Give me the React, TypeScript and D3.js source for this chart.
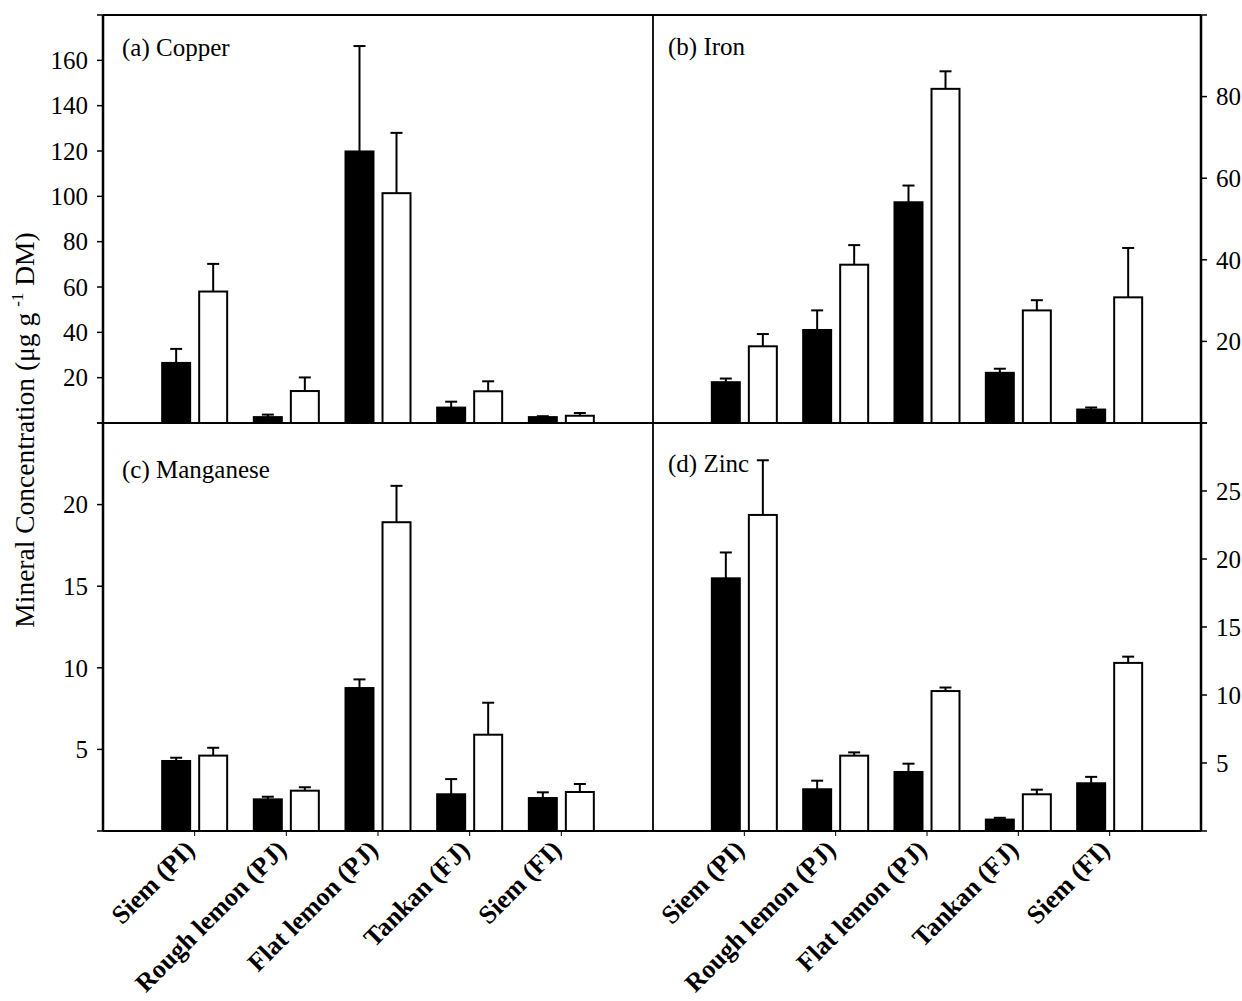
import React from "react";
import * as d3 from "d3";

// cultivars on the x axis (same for all four panels)
const categories = ["Siem (PI)", "Rough lemon (PJ)", "Flat lemon (PJ)", "Tankan (FJ)", "Siem (FI)"];

// (a) copper
const copperBlack = [26.5, 2.6, 119.8, 6.8, 2.6];
const copperBlackErr = [6.2, 1.1, 46.5, 2.6, 0.4];
const copperWhite = [58, 14.1, 101.4, 14, 3.2];
const copperWhiteErr = [12.2, 6.0, 26.6, 4.4, 1.2];
const copperTicks = [20, 40, 60, 80, 100, 120, 140, 160];

// (b) iron
const ironBlack = [10.0, 22.8, 54.1, 12.3, 3.3];
const ironBlackErr = [0.9, 4.8, 4.1, 1.0, 0.5];
const ironWhite = [18.8, 38.8, 81.9, 27.6, 30.8];
const ironWhiteErr = [3.0, 4.8, 4.3, 2.5, 12.1];
const ironTicks = [20, 40, 60, 80];

// (c) manganese
const mnBlack = [4.29, 1.94, 8.76, 2.25, 2.02];
const mnBlackErr = [0.2, 0.16, 0.53, 0.93, 0.35];
const mnWhite = [4.62, 2.47, 18.92, 5.9, 2.39];
const mnWhiteErr = [0.48, 0.21, 2.23, 1.96, 0.49];
const mnTicks = [5, 10, 15, 20];

// (d) zinc
const znBlack = [18.58, 3.07, 4.34, 0.84, 3.51];
const znBlackErr = [1.9, 0.63, 0.61, 0.13, 0.47];
const znWhite = [23.24, 5.54, 10.29, 2.7, 12.36];
const znWhiteErr = [4.02, 0.24, 0.26, 0.34, 0.46];
const znTicks = [5, 10, 15, 20, 25];

const FONT = "'Liberation Serif', 'Times New Roman', serif";

// frame edges
const X0 = 103, XM = 653, X1 = 1201;
const Y0 = 15, YM = 423, Y1 = 831;

const panels = [
  { title: "(a) Copper", col: 0, row: 0, max: 180, ticks: copperTicks, black: copperBlack, blackErr: copperBlackErr, white: copperWhite, whiteErr: copperWhiteErr, ty: 56 },
  { title: "(b) Iron", col: 1, row: 0, max: 100, ticks: ironTicks, black: ironBlack, blackErr: ironBlackErr, white: ironWhite, whiteErr: ironWhiteErr, ty: 55 },
  { title: "(c) Manganese", col: 0, row: 1, max: 25, ticks: mnTicks, black: mnBlack, blackErr: mnBlackErr, white: mnWhite, whiteErr: mnWhiteErr, ty: 478 },
  { title: "(d) Zinc", col: 1, row: 1, max: 30, ticks: znTicks, black: znBlack, blackErr: znBlackErr, white: znWhite, whiteErr: znWhiteErr, ty: 472 },
];

const sub = d3.scaleBand<string>().domain(["black", "white"]).range([-33.5, 33.5]).paddingInner(0.19);

function Panel({ p }: { p: (typeof panels)[number] }) {
  const left = p.col === 0 ? X0 : XM;
  const right = p.col === 0 ? XM : X1;
  const top = p.row === 0 ? Y0 : YM;
  const bottom = p.row === 0 ? YM : Y1;
  const x = d3.scalePoint<string>().domain(categories).range([left, right]).padding(1);
  const y = d3.scaleLinear().domain([0, p.max]).range([bottom, top]);
  const bw = sub.bandwidth();
  const series = [
    { key: "black", vals: p.black, errs: p.blackErr, fill: "#000" },
    { key: "white", vals: p.white, errs: p.whiteErr, fill: "#fff" },
  ];
  const axisX = p.col === 0 ? X0 : X1;
  const dir = p.col === 0 ? -1 : 1;

  return (
    <g>
      {series.map((s) =>
        categories.map((c, i) => {
          const bx = (x(c) as number) + (sub(s.key) as number);
          const cx = bx + bw / 2;
          const v = s.vals[i];
          const top2 = v + s.errs[i];
          return (
            <g key={s.key + c}>
              <line x1={cx} x2={cx} y1={y(v)} y2={y(top2)} stroke="#000" strokeWidth={2} />
              <line x1={cx - 6} x2={cx + 6} y1={y(top2)} y2={y(top2)} stroke="#000" strokeWidth={2} />
              <rect x={bx + 1} width={bw - 2} y={y(v)} height={y(0) - y(v)} fill={s.fill} stroke="#000" strokeWidth={2} />
            </g>
          );
        })
      )}

      {/* y ticks */}
      {[0, ...p.ticks, p.max].map((t) => (
        <line key={"t" + t} x1={axisX} x2={axisX + dir * 6} y1={y(t)} y2={y(t)} stroke="#000" strokeWidth={1.5} />
      ))}
      {p.ticks.map((t) => (
        <text
          key={"l" + t}
          x={axisX + dir * 15}
          y={y(t)}
          dy="0.35em"
          textAnchor={p.col === 0 ? "end" : "start"}
          fontFamily={FONT}
          fontSize={25}
        >
          {t}
        </text>
      ))}

      <text x={left + (p.col === 0 ? 19 : 15)} y={p.ty} fontFamily={FONT} fontSize={25}>
        {p.title}
      </text>

      {p.row === 1 &&
        categories.map((c) => (
          <g key={"x" + c}>
            <line x1={x(c)} x2={x(c)} y1={Y1} y2={Y1 + 5} stroke="#000" strokeWidth={1} />
            <text
              transform={`translate(${(x(c) as number) - 5},${Y1 + 14}) rotate(-45)`}
              textAnchor="end"
              dy="0.35em"
              fontFamily={FONT}
              fontWeight="bold"
              fontSize={26}
            >
              {c}
            </text>
          </g>
        ))}
    </g>
  );
}

export default function App() {
  return (
    <svg width={1242} height={1001} style={{ position: "absolute", left: 0, top: 0, background: "#fff" }}>
      <rect width={1242} height={1001} fill="#fff" />
      {panels.map((p) => (
        <Panel key={p.title} p={p} />
      ))}

      {/* frame */}
      <line x1={X0} x2={X1} y1={Y0} y2={Y0} stroke="#000" strokeWidth={2} />
      <line x1={X0} x2={X1} y1={YM} y2={YM} stroke="#000" strokeWidth={2} />
      <line x1={X0} x2={X1} y1={Y1} y2={Y1} stroke="#000" strokeWidth={2} />
      <line x1={X0} x2={X0} y1={Y0} y2={Y1} stroke="#000" strokeWidth={2.5} />
      <line x1={XM} x2={XM} y1={Y0} y2={Y1} stroke="#000" strokeWidth={1.8} />
      <line x1={X1} x2={X1} y1={Y0} y2={Y1} stroke="#000" strokeWidth={2.5} />

      <text transform="translate(34,430) rotate(-90)" textAnchor="middle" fontFamily={FONT} fontSize={27.5}>
        Mineral Concentration (μg g
        <tspan dx={6} dy={-11} fontSize={17}>-1</tspan>
        <tspan dy={11}> DM)</tspan>
      </text>
    </svg>
  );
}
